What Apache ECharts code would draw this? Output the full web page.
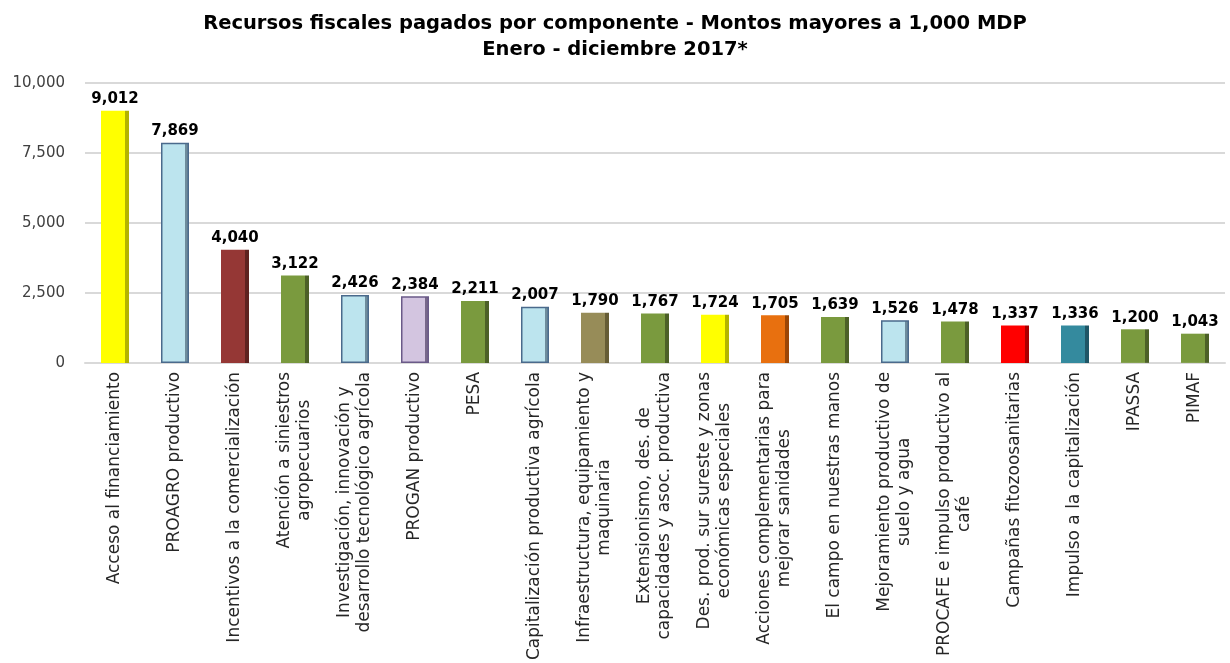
<!DOCTYPE html>
<html>
<head>
<meta charset="utf-8">
<script src="https://cdn.jsdelivr.net/npm/echarts@6/dist/echarts.min.js"></script>
<style>
  html, body { margin: 0; padding: 0; background: #fff; }
  #chart { width: 1230px; height: 663px; }
</style>
</head>
<body>
<div id="chart"></div>
<script>
var categories = [
	'Acceso al financiamiento',
	'PROAGRO productivo',
	'Incentivos a la comercialización',
	'Atención a siniestros\nagropecuarios',
	'Investigación, innovación y\ndesarrollo tecnológico agrícola',
	'PROGAN productivo',
	'PESA',
	'Capitalización productiva agrícola',
	'Infraestructura, equipamiento y\nmaquinaria',
	'Extensionismo, des. de\ncapacidades y asoc. productiva',
	'Des. prod. sur sureste y zonas\neconómicas especiales',
	'Acciones complementarias para\nmejorar sanidades',
	'El campo en nuestras manos',
	'Mejoramiento productivo de\nsuelo y agua',
	'PROCAFE e impulso productivo al\ncafé',
	'Campañas fitozoosanitarias',
	'Impulso a la capitalización',
	'IPASSA',
	'PIMAF'
];
var montos = [9012, 7869, 4040, 3122, 2426, 2384, 2211, 2007, 1790, 1767, 1724, 1705, 1639, 1526, 1478, 1337, 1336, 1200, 1043];
var yTicks = [0, 2500, 5000, 7500, 10000];

// estilo de cada barra: [frente, lateral, borde]
var estilos = {
	amarillo: ['#ffff00', '#b3b300', null],
	azul: ['#bce4ee', '#6e8c9c', '#4a6a8c'],
	rojo: ['#953735', '#5e2220', null],
	verde: ['#7a9a3e', '#4c6027', null],
	lila: ['#d3c5e0', '#77688a', '#6a5a88'],
	caqui: ['#978c58', '#665d35', null],
	naranja: ['#e8700f', '#9a4606', null],
	rojoVivo: ['#ff0000', '#a80000', null],
	teal: ['#348a9e', '#1f5666', null]
};
var colorBarra = ['amarillo', 'azul', 'rojo', 'verde', 'azul', 'lila', 'verde', 'azul', 'caqui', 'verde',
	'amarillo', 'naranja', 'verde', 'azul', 'verde', 'rojoVivo', 'teal', 'verde', 'verde'];

var fuente = 'DejaVu Sans';

function fmt(v) {
	return v.toString().replace(/\B(?=(\d{3})+(?!\d))/g, ',');
}

var barras = montos.map(function (v, i) {
	var e = estilos[colorBarra[i]];
	var item = {
		value: v,
		itemStyle: {
			color: new echarts.graphic.LinearGradient(0, 0, 1, 0, [
				{ offset: 0, color: e[0] },
				{ offset: 0.84, color: e[0] },
				{ offset: 0.84, color: e[1] },
				{ offset: 1, color: e[1] }
			])
		}
	};
	if (e[2]) {
		item.itemStyle.borderColor = e[2];
		item.itemStyle.borderWidth = 1.5;
	}
	return item;
});

var myChart = echarts.init(document.getElementById('chart'));
var option = {
	animation: false,
	title: {
		text: 'Recursos fiscales pagados por componente - Montos mayores a 1,000 MDP\nEnero - diciembre 2017*',
		left: 'center',
		top: 6,
		textStyle: {
			fontFamily: fuente,
			fontSize: 19.5,
			fontWeight: 'bold',
			color: '#000',
			lineHeight: 26,
			align: 'center'
		}
	},
	grid: {
		left: 85,
		right: 5,
		top: 83,
		bottom: 299,
		containLabel: false
	},
	xAxis: {
		type: 'category',
		data: categories,
		axisLine: { lineStyle: { color: '#d9d9d9', width: 2 } },
		axisTick: { show: false },
		axisLabel: {
			interval: 0,
			rotate: 90,
			margin: 9,
			formatter: function (val) {
				return val.split('\n').map(function (s) { return '{c|' + s + '}'; }).join('\n');
			},
			rich: {
				c: {
					fontFamily: fuente,
					fontSize: 17,
					color: '#262626',
					lineHeight: 20,
					align: 'center'
				}
			}
		}
	},
	yAxis: {
		type: 'value',
		min: 0,
		max: 10000,
		interval: 2500,
		axisLine: { show: false },
		axisTick: { show: false },
		splitLine: { lineStyle: { color: '#d9d9d9', width: 2 } },
		axisLabel: {
			margin: 20,
			fontFamily: fuente,
			fontSize: 15,
			color: '#404040',
			formatter: function (v) { return fmt(v); }
		}
	},
	series: [{
		type: 'bar',
		data: barras,
		barWidth: 28,
		label: {
			show: true,
			position: 'top',
			distance: 4,
			fontFamily: fuente,
			fontSize: 15,
			fontWeight: 'bold',
			color: '#000',
			formatter: function (p) { return fmt(p.value); }
		}
	}]
};
myChart.setOption(option);
</script>
</body>
</html>
